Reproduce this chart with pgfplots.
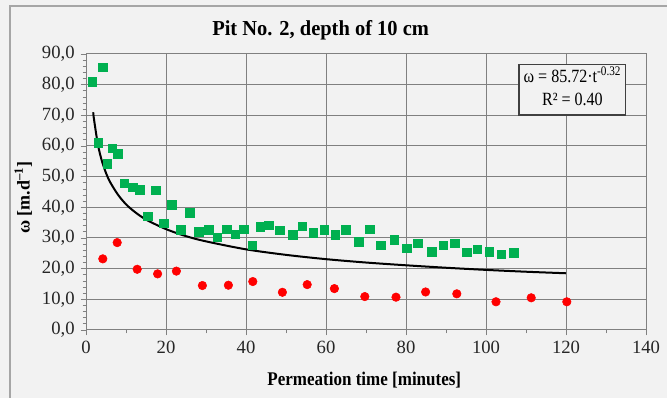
\documentclass[border=0pt]{standalone}
\usepackage{fontspec}
\setmainfont{Liberation Serif}
\usepackage{graphicx}
\usepackage{pgfplots}
\pgfplotsset{compat=1.18}
\definecolor{bg}{HTML}{F2F2F2}
\definecolor{gridc}{HTML}{808080}
\definecolor{frame}{HTML}{A6A6A6}
\definecolor{mgreen}{HTML}{00B050}
\definecolor{mred}{HTML}{FF0000}
\begin{document}
\begin{tikzpicture}
\useasboundingbox (0,0) rectangle (500.25pt,298.5pt);
\fill[bg] (0,0) rectangle (500.25pt,298.5pt);
\draw[frame, line width=0.8pt] (7.5pt,-1pt) -- (7.5pt,294pt) -- (502pt,294pt);
\begin{axis}[
  at={(64.5pt,51pt)}, anchor=south west,
  scale only axis, width=420pt, height=207pt,
  xmin=0, xmax=140, ymin=0, ymax=90,
  xtick={0,20,...,140}, ytick={0,10,...,90},
  minor x tick num=1, minor y tick num=4,
  tick align=outside, tick pos=left,
  major tick length=4pt, minor tick length=2.5pt,
  every tick/.style={gridc, line width=0.6pt},
  grid=major,
  major grid style={gridc, line width=0.75pt},
  axis line style={gridc, line width=0.75pt},
  axis background/.style={fill=bg},
  /pgf/number format/assume math mode=true,
  yticklabel style={/pgf/number format/fixed, /pgf/number format/fixed zerofill, /pgf/number format/precision=1, /pgf/number format/use comma, xshift=-1pt},
  xticklabel style={/pgf/number format/fixed, /pgf/number format/precision=0, yshift=-1pt},
  ticklabel style={font=\fontsize{14}{15}\selectfont, text=black!85},
  every axis title shift=0pt,
  title={\scalebox{0.96}[1]{\textbf{Pit No. 2, depth of 10 cm}}},
  title style={at={(axis description cs:0.419,1.087)}, anchor=center, font=\fontsize{16}{18}\selectfont},
  xlabel={\scalebox{0.88}[1]{\textbf{Permeation time [minutes]}}},
  xlabel style={at={(axis description cs:0.497,-0.181)}, anchor=center, font=\fontsize{14.5}{16}\selectfont},
  ylabel={\textbf{ω [m.d\textsuperscript{–1}]}},
  ylabel style={at={(axis description cs:-0.112,0.48)}, anchor=center, font=\fontsize{13.5}{15}\selectfont},
]
\addplot[only marks, mark=square*, mark size=3.2pt, mark options={fill=mgreen, draw=mgreen}] coordinates {
(1.6,81.0) (4.2,85.7) (3.1,61.0) (5.3,54.2) (6.6,59.3) (8.0,57.5) (9.6,47.8) (11.7,46.5)
(13.5,45.7) (15.4,37.1) (17.4,45.5) (19.5,34.8) (21.5,40.9) (23.7,32.6) (26.0,38.3) (28.2,32.1)
(30.7,32.7) (32.8,30.3) (35.2,32.9) (37.3,31.2) (39.4,32.9) (41.6,27.7) (43.6,33.6) (45.7,34.1)
(48.5,32.5) (51.7,31.0) (54.1,33.9) (56.8,31.7) (59.6,32.6) (62.3,31.0) (65.0,32.7) (68.2,28.8)
(70.9,32.9) (73.7,27.6) (77.1,29.5) (80.2,26.6) (83.0,28.3) (86.4,25.5) (89.3,27.7) (92.2,28.3)
(95.2,25.3) (97.8,26.4) (100.8,25.5) (103.8,24.7) (106.9,25.2)
};
\addplot[only marks, mark=*, mark size=3.2pt, mark options={fill=mred, draw=mred}] coordinates {
(4.2,23.2) (7.8,28.5) (12.8,19.8) (17.9,18.3) (22.6,19.2) (29.1,14.5) (35.6,14.6) (41.7,15.8)
(49.1,12.3) (55.3,14.8) (62.1,13.5) (69.7,10.9) (77.5,10.7) (84.9,12.4) (92.7,11.8) (102.5,9.2)
(111.3,10.5) (120.2,9.2)
};
\addplot[black, line width=1.5pt, smooth, no marks] coordinates {
(1.8,71.0) (2,68.7) (3,60.3) (4,55.0) (5,51.2) (6,48.3) (8,44.1) (10,41.0) (12,38.7)
(15,36.0) (20,32.9) (25,30.6) (30,28.9) (40,26.3) (50,24.5) (60,23.1) (70,22.0)
(80,21.1) (90,20.3) (100,19.6) (110,19.0) (120,18.5)
};
\node[draw=black!75, line width=0.9pt, fill=bg, inner xsep=3.5pt, inner ysep=2pt,
      font=\fontsize{14}{17}\selectfont] at (axis cs:121.6,78.4)
  {\scalebox{0.86}[1]{\begin{tabular}{@{}c@{}}ω = 85.72·t\textsuperscript{-0.32}\\R² = 0.40\end{tabular}}};
\end{axis}
\end{tikzpicture}
\end{document}
